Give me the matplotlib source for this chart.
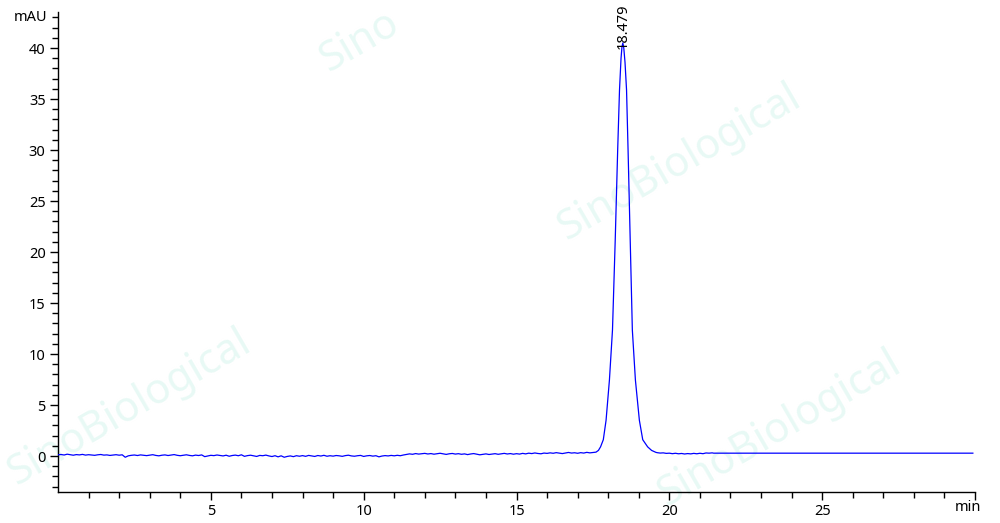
import numpy as np
import matplotlib
matplotlib.use("Agg")
import matplotlib.pyplot as plt

plt.rcParams['font.family'] = ['Noto Sans', 'DejaVu Sans']

# ---- data ----
# baseline before the peak, sampled every 0.1 min from 0.0 to 17.5 min
baseline_start = 0.0
baseline_step = 0.1
baseline_mau = [
    0.12, 0.15, 0.10, 0.18, 0.13, 0.08, 0.14, 0.11, 0.16, 0.09,
    0.13, 0.10, 0.07, 0.12, 0.15, 0.09, 0.11, 0.06, 0.10, 0.13,
    0.08, 0.12, -0.12, 0.02, 0.07, 0.10, 0.05, 0.11, 0.08, 0.04,
    0.09, 0.13, 0.06, 0.02, 0.08, 0.11, 0.05, 0.09, 0.14, 0.07,
    0.03, 0.08, 0.12, 0.06, 0.02, 0.09, 0.05, 0.11, -0.06, 0.01,
    0.07, 0.04, 0.10, 0.06, 0.01, 0.08, -0.02, 0.05, 0.09, 0.03,
    0.12, -0.03, 0.04, 0.08, 0.02, -0.04, 0.06, 0.03, 0.09, 0.01,
    -0.05, 0.03, -0.08, 0.02, -0.12, -0.04, 0.01, -0.06, 0.03, -0.02,
    0.04, -0.03, 0.06, 0.01, -0.04, 0.05, 0.00, 0.07, -0.02, 0.03,
    -0.01, 0.05, 0.02, -0.03, 0.04, 0.08, 0.01, -0.02, 0.03, 0.06,
    -0.04, 0.02, 0.05, -0.01, 0.03, -0.08, 0.00, 0.04, 0.01, 0.06,
    0.02, 0.07, 0.03, 0.10, 0.15, 0.21, 0.17, 0.24, 0.19, 0.22,
    0.26, 0.20, 0.24, 0.18, 0.23, 0.27, 0.21, 0.16, 0.22, 0.25,
    0.19, 0.23, 0.17, 0.21, 0.14, 0.20, 0.24, 0.18, 0.12, 0.17,
    0.21, 0.15, 0.19, 0.23, 0.17, 0.22, 0.26, 0.20, 0.24, 0.18,
    0.23, 0.19, 0.26, 0.21, 0.28, 0.24, 0.30, 0.25, 0.22, 0.29,
    0.26, 0.31, 0.27, 0.33, 0.28, 0.24, 0.30, 0.35, 0.29, 0.32,
    0.27, 0.33, 0.29, 0.36, 0.31, 0.34,
]

# main peak
peak_time = [17.60, 17.68, 17.75, 17.84, 17.93, 18.04, 18.14, 18.23, 18.31,
             18.37, 18.42, 18.45, 18.479, 18.51, 18.55, 18.60, 18.65, 18.72,
             18.79, 18.89, 19.02, 19.13, 19.29, 19.42, 19.56]
peak_mau = [0.38, 0.55, 0.90, 1.60, 3.50, 7.45, 12.35, 21.2, 30.0,
            35.9, 39.0, 40.1, 40.5, 40.0, 38.6, 35.9, 30.0, 21.2,
            12.35, 7.45, 3.50, 1.60, 0.90, 0.55, 0.36]

# tail after the peak, every 0.1 min from 19.6 to 21.4 min
tail_start = 19.6
tail_step = 0.1
tail_mau = [0.33, 0.29, 0.31, 0.26, 0.28, 0.23, 0.27, 0.22, 0.25, 0.20,
            0.24, 0.21, 0.26, 0.22, 0.27, 0.23, 0.30, 0.28, 0.31]

# flat section to the end of the run
flat_time = [21.45, 29.93]
flat_mau = [0.28, 0.28]

peak_label = "18.479"
x_major = [5, 10, 15, 20, 25, 30]
x_major_labels = ["5", "10", "15", "20", "25", ""]
x_unit = "min"
y_unit = "mAU"
y_major = [0, 5, 10, 15, 20, 25, 30, 35, 40]

# ---- assemble series ----
t_base = baseline_start + baseline_step * np.arange(len(baseline_mau))
t_tail = tail_start + tail_step * np.arange(len(tail_mau))
t = np.concatenate([t_base, peak_time, t_tail, flat_time])
y = np.concatenate([baseline_mau, peak_mau, tail_mau, flat_mau])

FS = 10.5

fig = plt.figure(figsize=(10, 5.23), dpi=100)
ax = fig.add_axes([0.058, 0.0598, 0.917, 0.9166])
ax.set_zorder(2)
ax.patch.set_alpha(0)

# faint watermarks (kept inside the figure)
wm_color = (0.91, 0.978, 0.96)
for (wx, wy, s) in [(0.13, 0.22, "SinoBiological"), (0.78, 0.18, "SinoBiological"),
                    (0.68, 0.69, "SinoBiological"), (0.36, 0.92, "Sino")]:
    fig.text(wx, wy, s, fontsize=30, color=wm_color,
             rotation=30, ha='center', va='center', zorder=-5)

ax.plot(t, y, color='#0000ff', linewidth=0.9, zorder=3)

ax.set_xlim(0, 30)
ax.set_ylim(-3.5, 43.5)

ax.spines['top'].set_visible(False)
ax.spines['right'].set_visible(False)
ax.spines['left'].set_linewidth(1.0)
ax.spines['bottom'].set_linewidth(1.0)

ax.set_xticks(x_major)
ax.set_xticklabels(x_major_labels)
ax.set_xticks(np.arange(1, 30), minor=True)
ax.set_yticks(y_major)
ax.set_yticks(np.arange(-3, 44), minor=True)

ax.tick_params(axis='both', which='major', length=6, width=1, labelsize=FS,
               direction='out', pad=3)
ax.tick_params(axis='both', which='minor', length=4, width=1, direction='out')

ax.text(-0.012, 43, y_unit, transform=ax.get_yaxis_transform(), ha='right',
        va='center', fontsize=FS)
ax.text(29.78, -0.018, x_unit, transform=ax.get_xaxis_transform(), ha='center',
        va='top', fontsize=FS)

ax.text(18.479, 39.9, peak_label, rotation=90, ha='center', va='bottom',
        fontsize=FS, clip_on=False)

fig.savefig("out.png", dpi=100)
